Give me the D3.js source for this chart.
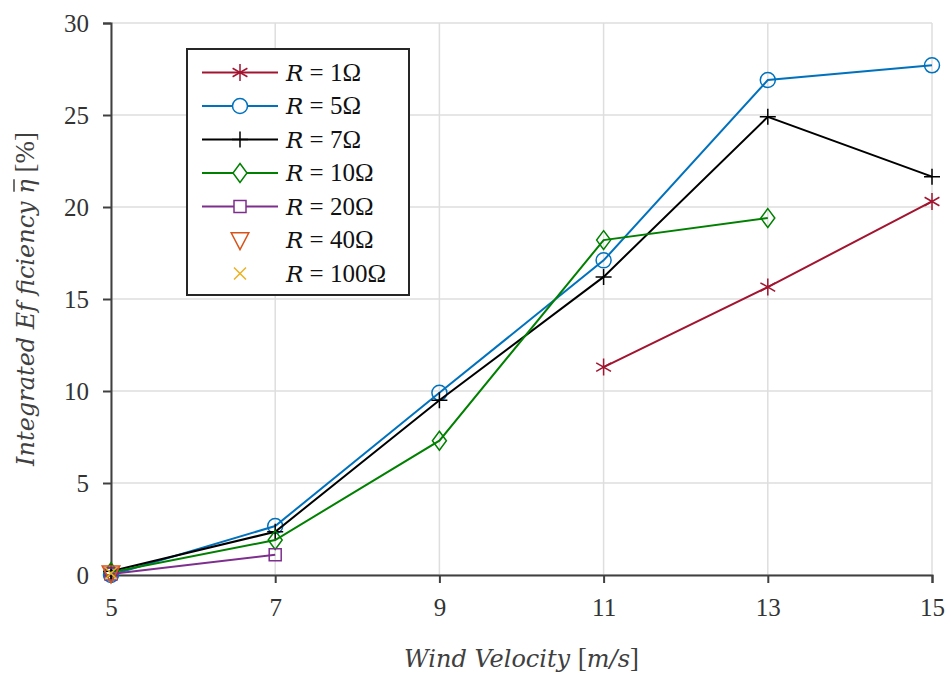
<!DOCTYPE html>
<html>
<head>
<meta charset="utf-8">
<script src="https://cdn.jsdelivr.net/npm/d3@7"></script>
<style>
  body { margin: 0; background: #fff; }
</style>
</head>
<body>
<svg id="chart" width="951" height="677"></svg>
<script>
// wind velocities (m/s)
var xTicks = [5, 7, 9, 11, 13, 15];
var yTicks = [0, 5, 10, 15, 20, 25, 30];

// integrated efficiency per load resistance
var r1   = [[11, 11.3], [13, 15.65], [15, 20.3]];
var r5   = [[5, 0.0], [7, 2.66], [9, 9.9], [11, 17.1], [13, 26.9], [15, 27.7]];
var r7   = [[5, 0.2], [7, 2.35], [9, 9.5], [11, 16.2], [13, 24.9], [15, 21.65]];
var r10  = [[5, 0.15], [7, 1.9], [9, 7.3], [11, 18.2], [13, 19.4]];
var r20  = [[5, 0.05], [7, 1.1]];
var r40  = [[5, 0.1]];
var r100 = [[5, 0.1]];

var series = [
  {name: '1', data: r1, color: '#A2142F', marker: 'star', line: true},
  {name: '5', data: r5, color: '#0072BD', marker: 'circle', line: true},
  {name: '7', data: r7, color: '#000000', marker: 'plus', line: true},
  {name: '10', data: r10, color: '#008000', marker: 'diamond', line: true},
  {name: '20', data: r20, color: '#7E2F8E', marker: 'square', line: true},
  {name: '40', data: r40, color: '#D95319', marker: 'tri', line: false},
  {name: '100', data: r100, color: '#EDB120', marker: 'x', line: false}
];

var FONT = '"Liberation Serif", "DejaVu Serif", serif';
var IFONT = '"DejaVu Serif", "Liberation Serif", serif';
var margin = {top: 23, right: 19, bottom: 102, left: 111};
var svg = d3.select('#chart');
var W = 951 - margin.left - margin.right,
    H = 677 - margin.top - margin.bottom;

var x = d3.scaleLinear().domain([5, 15]).range([0, W]);
var y = d3.scaleLinear().domain([0, 30]).range([H, 0]);

var g = svg.append('g').attr('transform', 'translate(' + margin.left + ',' + margin.top + ')');

// grid
g.selectAll('line.gx').data(xTicks).enter().append('line')
  .attr('x1', function(d) { return x(d); }).attr('x2', function(d) { return x(d); })
  .attr('y1', 0).attr('y2', H)
  .attr('stroke', '#dedede').attr('stroke-width', 1.5);
g.selectAll('line.gy').data(yTicks).enter().append('line')
  .attr('x1', 0).attr('x2', W)
  .attr('y1', function(d) { return y(d); }).attr('y2', function(d) { return y(d); })
  .attr('stroke', '#dedede').attr('stroke-width', 1.5);

// axes
var xAxis = g.append('g').attr('transform', 'translate(0,' + H + ')')
  .call(d3.axisBottom(x).tickValues(xTicks).tickSize(8).tickPadding(12));
var yAxis = g.append('g')
  .call(d3.axisLeft(y).tickValues(yTicks).tickSize(8).tickPadding(14));
[xAxis, yAxis].forEach(function(a) {
  a.attr('font-family', null);
  a.select('.domain').attr('stroke', '#404040').attr('stroke-width', 2);
  a.selectAll('.tick line').attr('stroke', '#404040').attr('stroke-width', 2);
  a.selectAll('.tick text').attr('fill', '#333')
    .style('font-family', FONT).style('font-size', '25px');
});
xAxis.selectAll('.tick text').attr('dy', '0.85em');

function markerPath(type, s) {
  switch (type) {
    case 'circle': return d3.symbol().type(d3.symbolCircle).size(Math.PI * s * s)();
    case 'square': return 'M' + -s + ',' + -s + 'H' + s + 'V' + s + 'H' + -s + 'Z';
    case 'diamond': return 'M0,' + (-s * 1.35) + 'L' + s + ',0L0,' + (s * 1.35) + 'L' + -s + ',0Z';
    case 'tri': return 'M' + (-s * 1.1) + ',' + (-s * 0.9) + 'H' + (s * 1.1) + 'L0,' + (s * 1.2) + 'Z';
    case 'plus': return 'M' + -s + ',0H' + s + 'M0,' + -s + 'V' + s;
    case 'x': var k = s * 0.75; return 'M' + -k + ',' + -k + 'L' + k + ',' + k + 'M' + -k + ',' + k + 'L' + k + ',' + -k;
    case 'star': var a = s * 0.87, b = s * 0.5;
      return 'M0,' + -s + 'V' + s + 'M' + -a + ',' + -b + 'L' + a + ',' + b + 'M' + -a + ',' + b + 'L' + a + ',' + -b;
  }
}
function markerSize(type) {
  return {circle: 7.5, square: 6, diamond: 7, tri: 8, plus: 8, x: 8, star: 8.5}[type];
}

var line = d3.line().x(function(d) { return x(d[0]); }).y(function(d) { return y(d[1]); });

series.forEach(function(s) {
  if (s.line) {
    g.append('path').datum(s.data).attr('d', line)
      .attr('fill', 'none').attr('stroke', s.color).attr('stroke-width', 2);
  }
  g.selectAll(null).data(s.data).enter().append('path')
    .attr('transform', function(d) { return 'translate(' + x(d[0]) + ',' + y(d[1]) + ')'; })
    .attr('d', markerPath(s.marker, markerSize(s.marker)))
    .attr('fill', 'none').attr('stroke', s.color).attr('stroke-width', 1.5);
});

// axis labels
var xl = svg.append('text').attr('x', margin.left + W / 2).attr('y', 667)
  .attr('text-anchor', 'middle').attr('fill', '#404040')
  .style('font-family', FONT).style('font-size', '27px');
xl.append('tspan').style('font-family', IFONT).style('font-style', 'italic').style('font-size', '24px').text('Wind Velocity ');
xl.append('tspan').text('[');
xl.append('tspan').style('font-family', IFONT).style('font-style', 'italic').style('font-size', '24px').text('m/s');
xl.append('tspan').text(']');

var ylT = 'translate(34,' + (margin.top + H / 2) + ') rotate(-90)';
var yl = svg.append('text').attr('transform', ylT)
  .attr('text-anchor', 'middle').attr('fill', '#404040')
  .style('font-family', FONT).style('font-size', '27px');
yl.append('tspan').style('font-family', IFONT).style('font-style', 'italic').style('font-size', '24px').text('Integrated Ef ficiency ');
yl.append('tspan').attr('class', 'eta').style('font-family', IFONT).style('font-style', 'italic').style('font-size', '24px').text('η');
yl.append('tspan').text(' [%]');
// bar over eta
var eb = yl.select('.eta').node().getExtentOfChar(0);
svg.append('line').attr('transform', ylT)
  .attr('x1', eb.x + 2).attr('x2', eb.x + eb.width)
  .attr('y1', -20).attr('y2', -20)
  .attr('stroke', '#404040').attr('stroke-width', 1.5);

// legend
var lg = svg.append('g').attr('transform', 'translate(187,49)');
lg.append('rect').attr('width', 222).attr('height', 246)
  .attr('fill', '#fff').attr('stroke', '#262626').attr('stroke-width', 2);
series.forEach(function(s, i) {
  var cy = 23.5 + i * 33.5;
  if (s.line) {
    lg.append('line').attr('x1', 15).attr('x2', 91).attr('y1', cy).attr('y2', cy)
      .attr('stroke', s.color).attr('stroke-width', 2);
  }
  lg.append('path').attr('transform', 'translate(53,' + cy + ')')
    .attr('d', markerPath(s.marker, markerSize(s.marker)))
    .attr('fill', s.marker === 'circle' || s.marker === 'square' || s.marker === 'diamond' || s.marker === 'tri' ? '#fff' : 'none')
    .attr('stroke', s.color).attr('stroke-width', 1.5);
  var t = lg.append('text').attr('x', 99).attr('y', cy + 8)
    .attr('fill', '#111').style('font-family', FONT).style('font-size', '25px');
  t.append('tspan').style('font-family', IFONT).style('font-style', 'italic').style('font-size', '23px').text('R');
  t.append('tspan').text(' = ' + s.name + 'Ω');
});
</script>
</body>
</html>
